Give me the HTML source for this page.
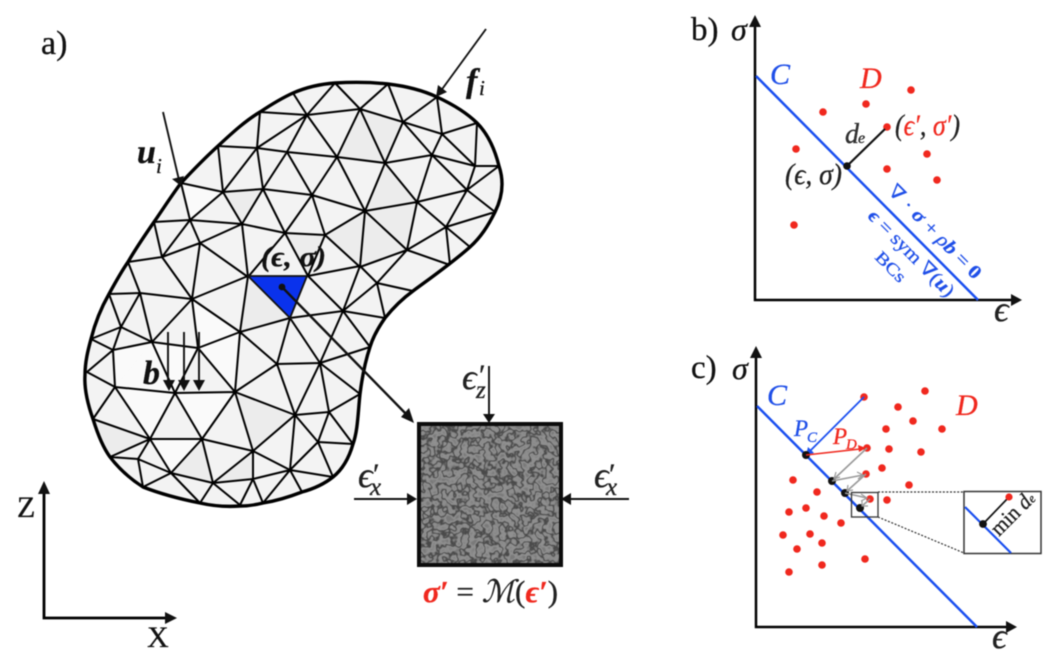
<!DOCTYPE html>
<html><head><meta charset="utf-8"><style>
html,body{margin:0;padding:0;background:#fff;width:1054px;height:663px;overflow:hidden}
svg{display:block;filter:blur(.45px)}
.s{font-family:"Liberation Serif","DejaVu Serif",serif}
text{stroke:#111;stroke-width:.3}
.i{font-style:italic}.b{font-weight:bold}
.bl{fill:#1f4fe8;stroke:#1f4fe8}.rd{fill:#f0281e;stroke:#f0281e}
</style></head><body>
<svg width="1054" height="663" viewBox="0 0 1054 663" xmlns="http://www.w3.org/2000/svg" class="s">
<defs>
<filter id="tex" x="0" y="0" width="100%" height="100%" color-interpolation-filters="sRGB">
<feTurbulence type="fractalNoise" baseFrequency=".13" numOctaves="2" seed="7"/>
<feColorMatrix type="matrix" values="0 1.5 0 0 -.25 0 1.5 0 0 -.25 0 1.5 0 0 -.25 0 0 0 0 1"/>
<feComponentTransfer>
<feFuncR type="table" tableValues=".52 .52 .52 .54 .56 .56 .55 .54 .52 .46 .36 .28 .30 .40 .50 .54 .56 .57 .56 .54 .52 .50 .48 .48 .48"/>
<feFuncG type="table" tableValues=".52 .52 .52 .54 .56 .56 .55 .54 .52 .46 .36 .28 .30 .40 .50 .54 .56 .57 .56 .54 .52 .50 .48 .48 .48"/>
<feFuncB type="table" tableValues=".52 .52 .52 .54 .56 .56 .55 .54 .52 .46 .36 .28 .30 .40 .50 .54 .56 .57 .56 .54 .52 .50 .48 .48 .48"/>
</feComponentTransfer>
</filter>
<clipPath id="blob"><path d="M181,183 C195,168 207,156 218,146 C232,133 245,121 260,112 C272,104 282,98 293,93 C307,87 320,84 335,83 C352,82 370,82 388,84 C405,86 422,90 437,97 C452,104 466,112 477,123 C488,134 495,150 499,166 C503,178 504,194 495,212 C488,226 481,237 470,247 C452,263 432,277 413,291 C402,299 393,308 385,318 C378,328 373,337 370,347 C365,362 362,378 360,394 C358,412 358,430 353,444 C349,458 343,469 333,477 C323,485 313,489 302,492 C289,497 276,501 263,503 C255,505 248,506 240,506 C226,507 213,506 200,503 C180,499 161,494 143,487 C132,480 120,470 110,457 C102,446 97,432 93,419 C88,405 84,390 85,375 C85,362 88,350 91,339 C95,323 101,308 109,294 C115,283 121,272 128,262 C136,248 145,235 154,222 C163,209 172,195 181,183 Z"/></clipPath>
</defs>

<!-- a) body -->
<path d="M181,183 C195,168 207,156 218,146 C232,133 245,121 260,112 C272,104 282,98 293,93 C307,87 320,84 335,83 C352,82 370,82 388,84 C405,86 422,90 437,97 C452,104 466,112 477,123 C488,134 495,150 499,166 C503,178 504,194 495,212 C488,226 481,237 470,247 C452,263 432,277 413,291 C402,299 393,308 385,318 C378,328 373,337 370,347 C365,362 362,378 360,394 C358,412 358,430 353,444 C349,458 343,469 333,477 C323,485 313,489 302,492 C289,497 276,501 263,503 C255,505 248,506 240,506 C226,507 213,506 200,503 C180,499 161,494 143,487 C132,480 120,470 110,457 C102,446 97,432 93,419 C88,405 84,390 85,375 C85,362 88,350 91,339 C95,323 101,308 109,294 C115,283 121,272 128,262 C136,248 145,235 154,222 C163,209 172,195 181,183 Z" fill="#f3f3f3"/>
<g clip-path="url(#blob)" fill="#ececec">
<polygon points="360,109 403,122 385,163 337,157"/>
<polygon points="365,211 385,163 417,202 407,250"/>
<polygon points="325,235 365,211 360,267"/>
<polygon points="285,233 325,235 308,276"/>
<polygon points="248,277 290,318 240,332"/>
<polygon points="110,457 150,439 93,419"/>
<polygon points="213,483 253,451 253,479"/>
<polygon points="365,211 407,250 360,267"/>
<polygon points="223,192 242,224 263,189" />
<polygon points="171,473 202,439 213,483" />
<polygon points="235,392 253,451 295,415"/>
<g fill="#fafafa">
<polygon points="115,387 175,393 150,439"/>
<polygon points="175,393 235,392 202,439"/>
<polygon points="150,439 202,439 171,473"/>
<polygon points="152,342 198,348 175,393"/>
<polygon points="115,387 152,342 175,393"/>
<polygon points="181,183 223,192 190,220"/>
<polygon points="198,348 240,332 235,392"/>
<polygon points="192,299 240,332 198,348"/>
<polygon points="113,350 152,342 115,387"/>
</g>
</g>
<path fill="none" stroke="#000" stroke-width="2" stroke-linejoin="round" d="
M293,93L307,115L335,83L360,109L388,84L403,122L437,97L442,134L477,123L475,166
M260,112L307,115L360,109L403,122L442,134
M260,112L257,148M218,146L257,148L307,115L287,152M307,115L337,157L360,109L385,163L403,122L432,155L442,134L475,166
M257,148L287,152L337,157L385,163L432,155L475,166L499,166
M218,146L223,192M181,183L223,192L257,148L263,189L287,152L312,195L337,157L365,211L385,163L417,202L432,155L467,190L475,166
M499,166L467,190M223,192L263,189L312,195L365,211L417,202L467,190L495,212
M181,183L190,220L223,192L242,224L263,189L285,233L312,195L325,235L365,211L360,267
M365,211L407,250L417,202L446,227L467,190M495,212L446,227L407,250M446,227L470,247M446,227L450,265
M154,222L190,220L242,224L285,233L325,235
M154,222L162,257L190,220L200,243L242,224L248,277M200,243L162,257L128,262M200,243L192,299M200,243L248,277
M285,233L248,277M285,233L308,276L325,235L360,267L407,250L450,265M407,250L377,283
M248,276L192,299M308,276L360,266L343,311M360,266L377,283L343,311L308,276
M377,283L385,318M377,283L413,291M343,311L385,318M343,311L370,347M343,311L320,363
M290,318L343,311M290,318L240,332L248,276M290,318L277,364M290,318L320,363
M240,332L192,299L198,348L240,332L235,392L277,364L240,332
M192,299L152,342M192,299L140,293M162,257L192,299M128,262L140,293L109,294M140,293L121,327L109,294M121,327L91,339L113,350L121,327L152,342L140,293
M113,350L152,342M113,350L87,372L115,387L113,350
M152,342L198,348L235,392M152,342L175,393L198,348
M115,387L175,393L235,392M115,387L93,419L150,439L115,387M175,393L150,439M175,393L202,439L235,392
M277,364L320,363M277,364L295,415L320,363L329,412M320,363L360,394L329,412L295,415L318,442L329,412L353,444L318,442
M320,363L370,347M235,392L253,451M235,392L295,415L253,451M295,415L290,470L318,442L333,477
M150,439L202,439L253,451M150,439L110,457L138,459L150,439L171,473L202,439L213,483L253,451L253,479
M253,451L290,470L253,479M290,470L263,503M290,470L302,492M290,470L333,477
M138,459L171,473L143,487L138,459M171,473L213,483L200,503L171,473M213,483L253,479L240,505L213,483M253,479L263,503"/>
<polygon points="248,276 307,276 290,318" fill="#0a32ec" stroke="#111" stroke-width="1.8" stroke-linejoin="round"/>
<path d="M181,183 C195,168 207,156 218,146 C232,133 245,121 260,112 C272,104 282,98 293,93 C307,87 320,84 335,83 C352,82 370,82 388,84 C405,86 422,90 437,97 C452,104 466,112 477,123 C488,134 495,150 499,166 C503,178 504,194 495,212 C488,226 481,237 470,247 C452,263 432,277 413,291 C402,299 393,308 385,318 C378,328 373,337 370,347 C365,362 362,378 360,394 C358,412 358,430 353,444 C349,458 343,469 333,477 C323,485 313,489 302,492 C289,497 276,501 263,503 C255,505 248,506 240,506 C226,507 213,506 200,503 C180,499 161,494 143,487 C132,480 120,470 110,457 C102,446 97,432 93,419 C88,405 84,390 85,375 C85,362 88,350 91,339 C95,323 101,308 109,294 C115,283 121,272 128,262 C136,248 145,235 154,222 C163,209 172,195 181,183 Z" fill="none" stroke="#000" stroke-width="3.4"/>

<!-- force / disp arrows -->
<g stroke="#111" fill="none" stroke-width="1.9">
<path d="M163,112L179,180"/><path d="M486,29L440,92"/>
<path d="M168,332V386M184,332V386M199,332V386"/>
</g>
<g fill="#111">
<polygon points="181,186 172,179 184,176"/>
<polygon points="436,97 438,85 447,92"/>
<polygon points="169,391 163,380 175,380"/><polygon points="184,391 178,380 190,380"/><polygon points="199,391 193,380 205,380"/>
</g>
<circle cx="282" cy="287" r="3.4" fill="#111"/>
<path d="M282,287L408,416" stroke="#111" stroke-width="2.4"/>
<polygon points="414,423 401,417 409,408" fill="#111"/>

<!-- specimen -->
<rect x="418" y="423" width="144" height="143" fill="#777"/>
<rect x="418" y="423" width="144" height="143" filter="url(#tex)"/>
<rect x="419" y="424" width="142" height="141" fill="none" stroke="#0c0c0c" stroke-width="4"/>
<g stroke="#111" stroke-width="1.9"><path d="M489,366V416M354,499H408M629,499H570"/></g>
<g fill="#111">
<polygon points="489,423 483,414 495,414"/><polygon points="417,499 407,493 407,505"/><polygon points="561,499 571,493 571,505"/>
</g>
<text class="i" font-size="36" x="462" y="389" fill="#222">ϵ</text><text font-size="30" x="479" y="385" fill="#222">′</text><text class="i" font-size="25" x="476" y="398" fill="#222">z</text>
<text class="i" font-size="36" x="358" y="487" fill="#222">ϵ</text><text font-size="30" x="373" y="484" fill="#222">′</text><text class="i" font-size="25" x="370" y="495" fill="#222">x</text>
<text class="i" font-size="36" x="594" y="487" fill="#222">ϵ</text><text font-size="30" x="609" y="484" fill="#222">′</text><text class="i" font-size="25" x="606" y="495" fill="#222">x</text>
<text font-size="31" x="423" y="602" fill="#222" textLength="135" lengthAdjust="spacingAndGlyphs"><tspan class="i b rd">σ′</tspan> = <tspan class="i">ℳ</tspan>(<tspan class="i b rd">ϵ′</tspan>)</text>

<!-- labels a -->
<text font-size="34" x="41" y="54" fill="#111">a)</text>
<text class="i b" font-size="34" x="137" y="163" fill="#111">u</text><text class="i" font-size="21" x="156" y="173" fill="#111">i</text>
<text class="i b" font-size="34" x="466" y="92" fill="#111">f</text><text class="i" font-size="21" x="479" y="95" fill="#111">i</text>
<text class="i b" font-size="34" x="143" y="384" fill="#111">b</text>
<text class="b i" font-size="28" x="261" y="266" fill="#111" textLength="65" lengthAdjust="spacingAndGlyphs">(ϵ, σ)</text>
<text font-size="30" x="17" y="517" fill="#111">Z</text>
<text font-size="30" x="147" y="647" fill="#111">X</text>
<path d="M44,490V618H167" fill="none" stroke="#000" stroke-width="2.8"/>
<polygon points="44,481 38,494 50,494" fill="#111"/><polygon points="177,618 165,612 165,624" fill="#111"/>

<!-- b) -->
<text font-size="33" x="691" y="40" fill="#111">b)</text>
<text class="i" font-size="32" x="731" y="40" fill="#111">σ</text>
<path d="M755,24V300H1013" fill="none" stroke="#000" stroke-width="2.5"/>
<polygon points="755,15 749,27 761,27" fill="#111"/><polygon points="1022,300 1011,294 1011,306" fill="#111"/>
<path d="M756,76L978,300" stroke="#1a4ff0" stroke-width="2.5"/>
<g fill="#f0281e">
<circle cx="911" cy="90" r="3.8"/><circle cx="866" cy="104" r="3.8"/><circle cx="823" cy="112" r="3.8"/><circle cx="887" cy="127" r="3.8"/><circle cx="796" cy="149" r="3.8"/><circle cx="927" cy="154" r="3.8"/><circle cx="887" cy="169" r="3.8"/><circle cx="937" cy="180" r="3.8"/><circle cx="794" cy="225" r="3.8"/>
</g>
<path d="M847,166L885,129" stroke="#111" stroke-width="2.2"/><circle cx="847" cy="166" r="3.8" fill="#111"/>
<text class="i bl" font-size="30" x="770" y="84">C</text>
<text class="i rd" font-size="30" x="860" y="88">D</text>
<text class="i" font-size="28" x="845" y="143" fill="#333">d</text><text class="i" font-size="16" x="858" y="143" fill="#333">e</text>
<text class="i" font-size="30" x="895" y="135" fill="#222" textLength="65" lengthAdjust="spacingAndGlyphs">(<tspan class="rd">ϵ′</tspan>, <tspan class="rd">σ′</tspan>)</text>
<text class="i" font-size="30" x="785" y="184" fill="#222" textLength="57" lengthAdjust="spacingAndGlyphs">(ϵ, σ)</text>
<text class="i" font-size="36" x="994" y="321" fill="#222">ϵ</text>
<text class="bl" font-size="19" transform="translate(887,192) rotate(45.3)" textLength="124" lengthAdjust="spacingAndGlyphs">∇ · <tspan class="b i bl">σ</tspan> + <tspan class="i bl">ρ</tspan><tspan class="b i bl">b</tspan> = <tspan class="b bl">0</tspan></text>
<text class="bl" font-size="19" transform="translate(867,217) rotate(45.3)" textLength="114" lengthAdjust="spacingAndGlyphs"><tspan class="b i bl">ϵ</tspan> = sym ∇(<tspan class="b i bl">u</tspan>)</text>
<text class="bl" font-size="17" transform="translate(874,258) rotate(45.3)" textLength="36" lengthAdjust="spacingAndGlyphs">BCs</text>

<!-- c) -->
<text font-size="33" x="691" y="378" fill="#111">c)</text>
<text class="i" font-size="32" x="732" y="379" fill="#111">σ</text>
<path d="M756,355V627H1008" fill="none" stroke="#000" stroke-width="2.5"/>
<polygon points="756,346 750,358 762,358" fill="#111"/><polygon points="1017,627 1006,621 1006,633" fill="#111"/>
<path d="M757,406L977,627" stroke="#1a4ff0" stroke-width="2.5"/>
<g fill="#f0281e">
<circle cx="925" cy="391" r="3.8"/><circle cx="864" cy="397" r="3.8"/><circle cx="898" cy="407" r="3.8"/><circle cx="913" cy="421" r="3.8"/><circle cx="886" cy="429" r="3.8"/><circle cx="942" cy="429" r="3.8"/><circle cx="867" cy="448" r="3.8"/><circle cx="889" cy="449" r="3.8"/><circle cx="921" cy="452" r="3.8"/><circle cx="882" cy="468" r="3.8"/><circle cx="866" cy="474" r="3.8"/><circle cx="793" cy="480" r="3.8"/><circle cx="909" cy="485" r="3.8"/><circle cx="817" cy="492" r="3.8"/><circle cx="870" cy="499" r="3.8"/><circle cx="887" cy="500" r="3.8"/><circle cx="806" cy="508" r="3.8"/><circle cx="789" cy="512" r="3.8"/><circle cx="824" cy="516" r="3.8"/><circle cx="841" cy="523" r="3.8"/><circle cx="810" cy="534" r="3.8"/><circle cx="783" cy="535" r="3.8"/><circle cx="822" cy="543" r="3.8"/><circle cx="797" cy="549" r="3.8"/><circle cx="865" cy="559" r="3.8"/><circle cx="822" cy="565" r="3.8"/><circle cx="789" cy="572" r="3.8"/>
</g>
<path d="M808,453L864,397" stroke="#1a4ff0" stroke-width="1.8"/>
<polygon points="806,455 808,447 814,453" fill="#1a4ff0"/>
<circle cx="806" cy="455" r="4" fill="#111"/><circle cx="832" cy="481" r="4" fill="#111"/><circle cx="845" cy="493" r="4" fill="#111"/><circle cx="860" cy="508" r="4" fill="#111"/>
<path d="M806,455L860,449" stroke="#f0281e" stroke-width="1.5"/>
<polygon points="866,448 858,445 859,452" fill="#f0281e"/>
<g stroke="#999" stroke-width="1.6" fill="none">
<path d="M867,448L834,479M832,481L863,475M866,474L847,491M845,493L867,498M870,499L862,506"/>
<path d="M840,477L834,479L836,472M857,472L863,475L858,479M853,490L847,491L848,485M861,494L867,498L861,501M868,506L862,506L862,500" stroke-width="1.2"/>
</g>
<rect x="851.5" y="492.5" width="26.5" height="24.5" fill="none" stroke="#333" stroke-width="1.3"/>
<path d="M878,492H964M878,517L964,553" stroke="#333" stroke-width="1.2" stroke-dasharray="2 1.6" fill="none"/>
<rect x="964" y="491.5" width="77" height="62" fill="#fff" stroke="#333" stroke-width="1.5"/>
<path d="M965,507L1011,553" stroke="#1a4ff0" stroke-width="2.2"/>
<path d="M983,524L1009,497" stroke="#111" stroke-width="1.7"/>
<circle cx="1009" cy="497" r="3.6" fill="#f0281e"/><circle cx="983" cy="524" r="3.9" fill="#111"/>
<text font-size="22" transform="translate(999,537) rotate(-45)" fill="#222" textLength="53" lengthAdjust="spacingAndGlyphs">min <tspan class="i">d</tspan><tspan class="i" font-size="13">e</tspan></text>
<text class="i bl" font-size="30" x="767" y="405">C</text>
<text class="i rd" font-size="30" x="956" y="415">D</text>
<text class="i bl" font-size="23" x="794" y="436">P</text><text class="i bl" font-size="15" x="807" y="442">C</text>
<text class="i rd" font-size="23" x="833" y="444">P</text><text class="i rd" font-size="15" x="846" y="449">D</text>
<text class="i" font-size="36" x="992" y="648" fill="#222">ϵ</text>
</svg>
</body></html>
